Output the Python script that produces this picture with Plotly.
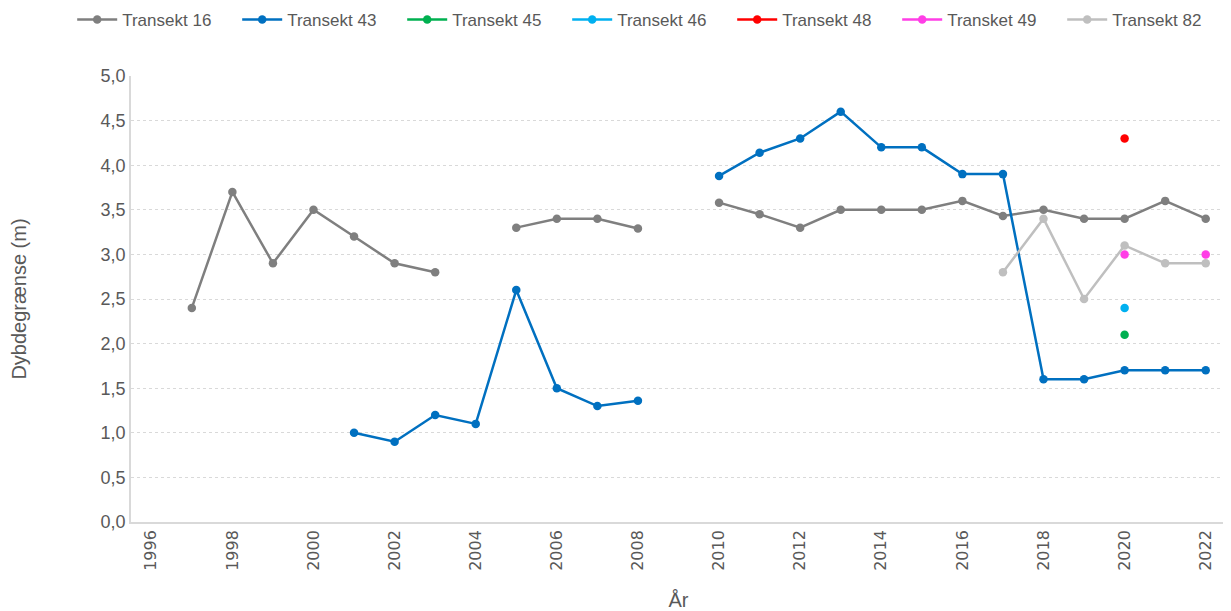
import plotly.graph_objects as go

years = list(range(1996, 2023))

t16 = [None, 2.4, 3.7, 2.9, 3.5, 3.2, 2.9, 2.8, None, 3.3, 3.4, 3.4, 3.29, None,
       3.58, 3.45, 3.3, 3.5, 3.5, 3.5, 3.6, 3.43, 3.5, 3.4, 3.4, 3.6, 3.4]
t43 = [None, None, None, None, None, 1.0, 0.9, 1.2, 1.1, 2.6, 1.5, 1.3, 1.36, None,
       3.88, 4.14, 4.3, 4.6, 4.2, 4.2, 3.9, 3.9, 1.6, 1.6, 1.7, 1.7, 1.7]
t45_years = [2020]
t45 = [2.1]
t46_years = [2020]
t46 = [2.4]
t48_years = [2020]
t48 = [4.3]
t49_years = [2020, 2021, 2022]
t49 = [3.0, None, 3.0]
t82_years = [2017, 2018, 2019, 2020, 2021, 2022]
t82 = [2.8, 3.4, 2.5, 3.1, 2.9, 2.9]

series = [
    ("Transekt 16", years, t16, "#7f7f7f"),
    ("Transekt 43", years, t43, "#0070c0"),
    ("Transekt 45", t45_years, t45, "#00b050"),
    ("Transekt 46", t46_years, t46, "#00b0f0"),
    ("Transekt 48", t48_years, t48, "#ff0000"),
    ("Transket 49", t49_years, t49, "#ff3ee6"),
    ("Transekt 82", t82_years, t82, "#bfbfbf"),
]

fig = go.Figure()
for name, xs, ys, col in series:
    fig.add_trace(go.Scatter(
        x=xs, y=ys, name=name, mode="lines+markers",
        line=dict(color=col, width=2.5),
        marker=dict(color=col, size=8.5),
        connectgaps=False,
    ))

font_family = "Liberation Sans, Arial"

fig.update_layout(
    width=1223, height=603,
    margin=dict(l=123, r=5, t=68, b=89, autoexpand=False),
    plot_bgcolor="white", paper_bgcolor="white",
    font=dict(family=font_family, color="#595959", size=16),
    legend=dict(orientation="h", x=-0.0537, xanchor="left", y=1.1256, yanchor="middle",
                font=dict(size=17, color="#595959"), itemwidth=40,
                entrywidth=110, entrywidthmode="pixels",
                tracegroupgap=0, bgcolor="rgba(0,0,0,0)"),
    xaxis=dict(
        range=[1995.5, 2022.5], tickmode="array",
        tickvals=list(range(1996, 2023, 2)),
        ticktext=[str(y) for y in range(1996, 2023, 2)],
        tickangle=-90, showgrid=False, zeroline=False, automargin=False,
        showline=True, linecolor="#d9d9d9", linewidth=1.5,
        ticks="", tickfont=dict(size=16, family="DejaVu Sans", color="#595959"),
        title=dict(text="År", font=dict(size=20, color="#595959"), standoff=23),
    ),
    yaxis=dict(
        range=[0, 5], tickmode="array",
        tickvals=[i * 0.5 for i in range(11)],
        ticktext=[f"{i*0.5:.1f}".replace(".", ",") for i in range(11)],
        showgrid=True, gridcolor="#d9d9d9", griddash="dot", gridwidth=1,
        zeroline=False, showline=True, linecolor="#d9d9d9", linewidth=1.5,
        ticks="", tickfont=dict(size=18, color="#595959"), automargin=False,
        title=dict(text="Dybdegrænse (m)", font=dict(size=20, color="#595959"), standoff=70),
    ),
)

fig.write_html("out.html")
